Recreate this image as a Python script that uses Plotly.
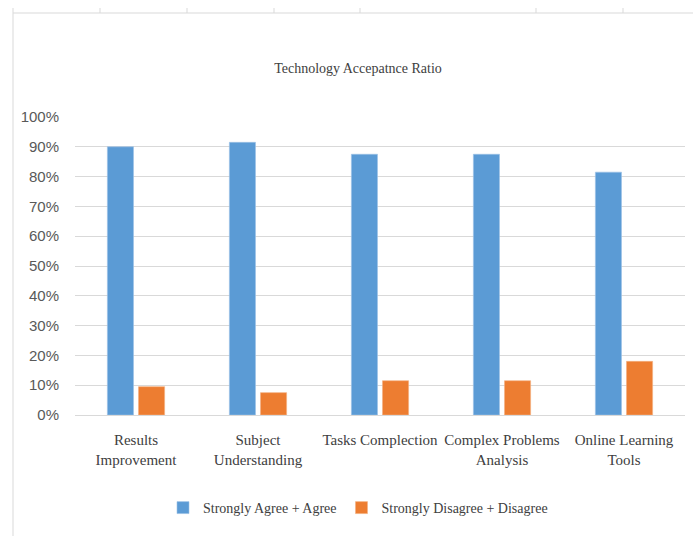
import plotly.graph_objects as go

categories = ["Results<br>Improvement", "Subject<br>Understanding", "Tasks Complection",
              "Complex Problems<br>Analysis", "Online Learning<br>Tools"]
agree = [0.90, 0.915, 0.875, 0.875, 0.815]
disagree = [0.095, 0.075, 0.115, 0.115, 0.18]
series_names = ["Strongly Agree + Agree", "Strongly Disagree + Disagree"]
y_ticks = [i / 10 for i in range(11)]

W, H = 693, 536
ML, MR, MT, MB = 75, 8, 117, 121
PW, PH = W - ML - MR, H - MT - MB

def px2x(px):
    return (px - ML) / PW

def px2y(py):
    return (H - MB - py) / PH

serif = "Liberation Serif, Times New Roman, serif"
sans = "Liberation Sans, Arial, sans-serif"

fig = go.Figure()
fig.add_trace(go.Bar(x=categories, y=agree, name=series_names[0],
                     marker=dict(color="#5B9BD5", line=dict(color="#9DC3E6", width=0.6))))
fig.add_trace(go.Bar(x=categories, y=disagree, name=series_names[1],
                     marker=dict(color="#ED7D31", line=dict(color="#F4B183", width=0.6))))

# frame lines (page border decoration)
shapes = [
    dict(type="line", xref="paper", yref="paper", x0=px2x(13), x1=px2x(693), y0=px2y(13), y1=px2y(13),
         line=dict(color="#d9d9d9", width=1)),
    dict(type="line", xref="paper", yref="paper", x0=px2x(13), x1=px2x(13), y0=px2y(13), y1=px2y(536),
         line=dict(color="#d9d9d9", width=1)),
]
for tx in [13, 100, 187, 274, 360, 536, 623]:
    shapes.append(dict(type="line", xref="paper", yref="paper", x0=px2x(tx), x1=px2x(tx),
                       y0=px2y(13), y1=px2y(8), line=dict(color="#d9d9d9", width=1)))

fig.update_layout(
    width=W, height=H,
    margin=dict(l=ML, r=MR, t=MT, b=MB, pad=0),
    paper_bgcolor="white", plot_bgcolor="white",
    barmode="group", bargap=0.49, bargroupgap=0.16,
    title=dict(text="Technology Accepatnce Ratio", x=px2x(358), xref="paper", xanchor="center",
               y=1 - 68 / H, yref="container", yanchor="middle",
               font=dict(family=serif, size=14, color="#404040")),
    xaxis=dict(showgrid=False, showline=False, zeroline=False, ticks="outside", ticklen=11,
               tickcolor="rgba(0,0,0,0)", tickfont=dict(family=serif, size=15, color="#404040")),
    yaxis=dict(range=[0, 1.0], tickvals=y_ticks, tickformat=".0%", showgrid=True,
               gridcolor="#d9d9d9", gridwidth=1, zeroline=True, zerolinecolor="#d9d9d9",
               zerolinewidth=1, showline=False, ticks="outside", ticklen=12,
               tickcolor="rgba(0,0,0,0)", tickfont=dict(family=sans, size=15, color="#595959")),
    legend=dict(orientation="h", x=px2x(358), xanchor="center", y=px2y(508), yanchor="middle",
                font=dict(family=serif, size=14, color="#404040"), itemwidth=30,
                bgcolor="rgba(0,0,0,0)"),
    shapes=shapes,
)

fig.write_html("out.html", config={"displayModeBar": False},
               post_script="document.body.style.margin='0';")
